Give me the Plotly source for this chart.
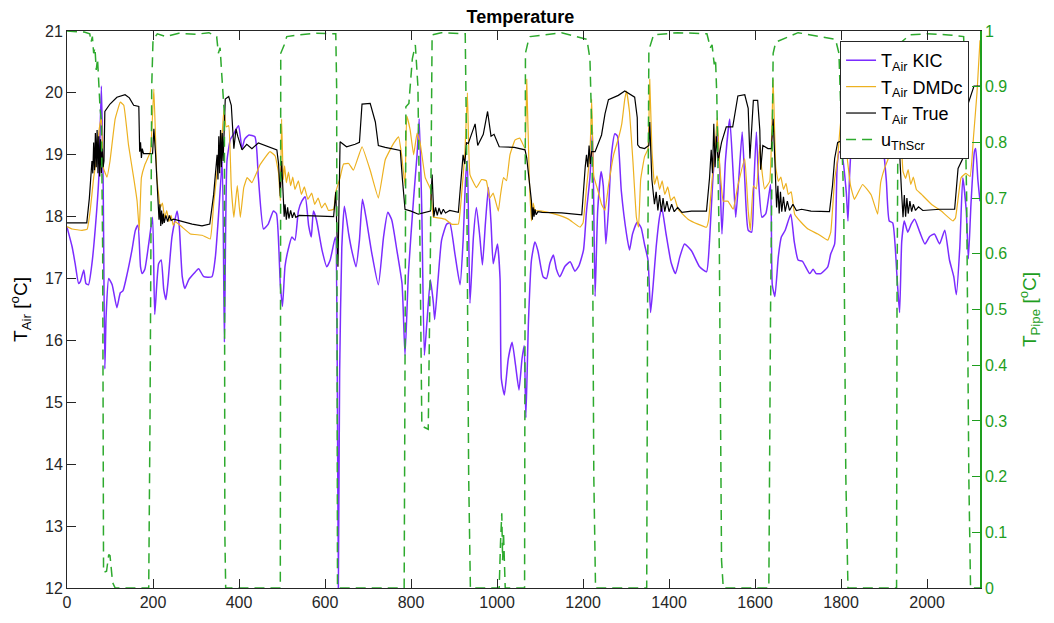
import plotly.graph_objects as go

# ---- air temperature, KIC model ----
x_kic = [0, 12, 19, 27, 31, 39, 44, 50, 58, 66, 74, 80, 84, 88, 91, 97, 105, 116, 124, 130,
         140, 151, 159, 165, 171, 175, 181, 190, 199, 204, 213, 219, 225, 230, 235, 244, 256, 261, 268, 274,
         283, 295, 306, 318, 337, 345, 353, 361, 366, 372, 380, 388, 392, 399, 407, 413, 423, 437, 445, 457,
         468, 480, 487, 496, 501, 507, 514, 523, 530, 538, 546, 554, 562, 568, 573, 580, 593, 604, 612, 624,
         628, 631, 634, 639, 645, 655, 662, 672, 680, 687, 695, 709, 724, 736, 746, 755, 767, 779, 786, 794,
         806, 814, 819, 825, 831, 837, 845, 852, 855, 863, 871, 883, 890, 902, 914, 921, 927, 931, 937, 945,
         952, 960, 966, 973, 980, 986, 991, 996, 1001, 1007, 1010, 1017, 1026, 1035, 1043, 1051, 1058, 1063, 1067, 1073,
         1080, 1088, 1095, 1107, 1115, 1123, 1131, 1138, 1146, 1158, 1170, 1181, 1190, 1201, 1208, 1216, 1222, 1228, 1234, 1242,
         1247, 1253, 1259, 1266, 1274, 1280, 1289, 1301, 1308, 1315, 1326, 1335, 1343, 1351, 1357, 1363, 1370, 1378, 1383, 1393,
         1405, 1415, 1425, 1436, 1452, 1471, 1487, 1494, 1502, 1512, 1518, 1523, 1531, 1541, 1549, 1555, 1562, 1570, 1576, 1584,
         1592, 1597, 1603, 1608, 1616, 1625, 1636, 1640, 1646, 1654, 1661, 1670, 1683, 1691, 1700, 1710, 1727, 1735, 1742, 1753,
         1769, 1776, 1785, 1791, 1796, 1802, 1812, 1816, 1820, 1826, 1845, 1870, 1895, 1905, 1912, 1920, 1930, 1936, 1941, 1947,
         1955, 1963, 1971, 1983, 1995, 2006, 2017, 2029, 2041, 2052, 2062, 2068, 2076, 2083, 2091, 2096, 2102, 2110, 2113, 2118,
         2123]
t_kic = [17.83, 17.51, 17.24, 16.92, 16.95, 17.14, 16.92, 16.90, 17.24, 17.83, 18.63, 20.11, 18.60, 15.54, 16.40, 17.00, 16.90, 16.53, 16.77, 16.80,
         17.08, 17.46, 17.78, 17.86, 17.19, 17.08, 17.15, 17.56, 17.99, 16.42, 17.24, 17.30, 16.82, 16.66, 16.95, 17.67, 18.09, 17.85, 17.03, 16.84,
         16.98, 17.08, 17.16, 17.03, 17.03, 17.35, 18.09, 18.89, 15.97, 18.90, 19.25, 19.34, 19.40, 19.47, 19.10, 19.25, 19.32, 19.29, 18.63, 17.80,
         17.88, 18.09, 18.05, 16.90, 16.55, 17.20, 17.46, 17.67, 17.62, 18.09, 18.25, 18.32, 17.85, 17.67, 18.09, 17.95, 17.46, 17.19, 17.30, 17.67,
         16.00, 12.00, 15.50, 17.50, 18.17, 17.72, 17.46, 17.19, 17.62, 18.28, 18.00, 17.40, 16.90, 17.67, 18.07, 17.95, 17.46, 16.92, 15.76, 17.10,
         18.30, 19.00, 19.58, 18.10, 15.76, 16.30, 16.98, 16.60, 16.34, 17.00, 17.62, 17.88, 17.90, 17.40, 16.90, 17.60, 18.63, 18.90, 16.60, 17.67,
         18.15, 17.67, 17.22, 17.90, 18.47, 17.90, 17.24, 17.40, 17.56, 17.00, 15.38, 15.12, 15.70, 15.97, 15.60, 15.20, 15.70, 15.92, 14.75, 16.30,
         17.30, 17.59, 17.45, 17.03, 17.00, 17.25, 17.38, 17.15, 17.03, 17.20, 17.27, 17.12, 17.20, 17.46, 18.09, 18.63, 19.37, 16.71, 18.10, 18.73,
         18.50, 17.56, 18.10, 19.00, 19.34, 19.30, 18.41, 17.72, 17.46, 17.72, 17.91, 17.82, 17.55, 17.30, 16.45, 16.90, 17.51, 18.00, 18.15, 17.72,
         17.25, 17.08, 17.35, 17.56, 17.45, 17.19, 17.11, 17.60, 18.63, 19.40, 18.70, 17.72, 18.90, 19.58, 18.70, 17.99, 18.60, 19.37, 18.60, 17.78,
         17.75, 18.50, 19.37, 18.60, 17.99, 18.05, 18.52, 16.90, 16.71, 17.35, 17.67, 17.78, 18.04, 17.60, 17.30, 17.28, 17.08, 17.15, 17.08, 17.08,
         17.19, 17.40, 17.56, 18.84, 19.05, 19.00, 18.40, 17.93, 18.70, 19.20, 19.35, 19.40, 19.20, 18.60, 17.93, 17.90, 17.03, 16.45, 17.60, 17.93,
         17.75, 17.88, 17.96, 17.75, 17.56, 17.68, 17.72, 17.56, 17.78, 17.30, 17.03, 16.74, 17.50, 18.63, 18.10, 17.32, 18.20, 19.05, 19.10, 18.60,
         18.25]

# ---- air temperature, DMDc model ----
x_dmdc = [0, 12, 35, 47, 54, 62, 68, 75, 80, 85, 93, 100, 112, 124, 132, 143, 155, 163, 168, 173,
          181, 194, 202, 209, 217, 222, 227, 232, 237, 242, 247, 252, 268, 287, 314, 333, 341, 349, 361, 365,
          370, 376, 382, 388, 396, 403, 411, 419, 430, 449, 472, 484, 492, 496, 499, 503, 506, 510, 515, 520,
          525, 530, 538, 545, 552, 560, 569, 576, 584, 592, 600, 608, 620, 625, 635, 643, 655, 666, 686, 705,
          724, 740, 759, 771, 778, 786, 790, 798, 806, 814, 821, 833, 845, 852, 855, 879, 894, 910, 918, 925,
          931, 937, 952, 964, 975, 983, 991, 1003, 1008, 1015, 1022, 1030, 1042, 1053, 1065, 1069, 1075, 1080, 1084, 1088,
          1104, 1135, 1166, 1193, 1200, 1208, 1216, 1220, 1225, 1235, 1243, 1251, 1259, 1271, 1282, 1290, 1297, 1301, 1308, 1316,
          1324, 1329, 1334, 1343, 1351, 1355, 1360, 1366, 1372, 1378, 1384, 1390, 1397, 1404, 1412, 1421, 1444, 1467, 1487, 1492,
          1500, 1506, 1512, 1518, 1526, 1537, 1549, 1560, 1576, 1584, 1589, 1596, 1603, 1611, 1615, 1622, 1634, 1642, 1648, 1654,
          1660, 1666, 1672, 1677, 1684, 1692, 1707, 1723, 1746, 1769, 1776, 1785, 1792, 1800, 1808, 1815, 1822, 1831, 1850, 1870,
          1885, 1892, 1901, 1913, 1925, 1936, 1940, 1944, 1950, 1956, 1962, 1968, 1975, 1987, 2010, 2033, 2060, 2066, 2079, 2090,
          2100, 2108, 2116, 2123]
t_dmdc = [17.84, 17.80, 17.78, 17.80, 18.10, 18.63, 18.90, 19.42, 19.60, 18.78, 18.64, 18.90, 19.58, 19.85, 19.80, 19.16, 18.63, 18.25, 17.78, 18.63,
          18.84, 19.05, 20.06, 18.63, 18.15, 18.22, 17.98, 18.10, 17.92, 18.02, 17.86, 17.92, 17.83, 17.72, 17.70, 17.64, 18.20, 18.73, 19.37, 19.74,
          19.45, 19.47, 18.47, 17.99, 18.50, 17.99, 18.47, 18.63, 18.55, 18.84, 19.05, 18.98, 18.70, 18.26, 19.58, 18.60, 18.82, 18.55, 18.72, 18.50,
          18.64, 18.44, 18.58, 18.36, 18.48, 18.28, 18.38, 18.20, 18.30, 18.14, 18.22, 18.10, 18.12, 18.40, 18.63, 18.85, 18.86, 18.75, 19.13, 18.75,
          18.30, 18.92, 19.18, 19.29, 19.00, 18.50, 19.63, 19.40, 19.00, 19.35, 19.20, 18.63, 18.45, 17.99, 17.99, 17.96, 17.88, 17.88, 18.40, 19.00,
          20.00, 18.68, 18.47, 18.60, 18.58, 18.30, 18.38, 18.09, 18.35, 18.63, 18.58, 19.00, 19.24, 19.27, 19.10, 20.22, 18.60, 17.93, 18.22, 18.10,
          18.09, 18.04, 17.96, 17.83, 17.90, 18.47, 19.00, 19.90, 18.65, 18.41, 18.20, 18.10, 18.50, 19.00, 19.26, 19.50, 19.90, 20.03, 19.69, 18.89,
          17.99, 17.83, 18.60, 18.97, 19.09, 20.22, 19.10, 18.52, 18.66, 18.44, 18.58, 18.36, 18.48, 18.26, 18.32, 18.12, 17.96, 17.88, 17.83, 17.95,
          18.60, 19.00, 19.60, 18.80, 18.25, 18.25, 18.12, 18.50, 18.94, 18.10, 17.78, 18.50, 18.45, 19.16, 18.80, 18.45, 18.57, 20.22, 18.80, 18.57,
          18.64, 18.44, 18.54, 18.36, 18.40, 18.04, 17.91, 17.80, 17.72, 17.62, 17.75, 18.60, 18.94, 19.60, 19.40, 18.90, 18.50, 18.28, 18.52, 18.35,
          18.04, 18.55, 18.78, 19.00, 19.50, 19.80, 19.20, 18.73, 18.62, 18.76, 18.52, 18.64, 18.44, 18.36, 18.20, 18.09, 17.93, 17.98, 18.63, 18.70,
          18.65, 19.30, 20.00, 20.85]

# ---- air temperature, measured ----
x_true = [0, 46, 52, 58, 60, 62, 64, 66, 68, 70, 72, 74, 76, 78, 80, 82, 84, 86, 88, 100,
          116, 135, 145, 155, 167, 169, 171, 173, 175, 178, 199, 202, 206, 210, 214, 216, 218, 220, 222, 224,
          226, 230, 234, 238, 242, 248, 291, 314, 332, 341, 346, 349, 351, 353, 355, 357, 359, 361, 363, 365,
          368, 376, 382, 388, 393, 397, 407, 418, 430, 445, 488, 492, 496, 499, 502, 505, 507, 510, 513, 516,
          520, 524, 528, 532, 540, 620, 625, 630, 635, 650, 670, 680, 686, 705, 717, 724, 740, 775, 780, 786,
          800, 817, 845, 849, 853, 857, 861, 865, 870, 875, 880, 890, 910, 921, 925, 929, 933, 949, 955, 968,
          978, 986, 993, 1005, 1040, 1065, 1069, 1077, 1080, 1082, 1084, 1086, 1088, 1091, 1095, 1105, 1150, 1197, 1201, 1205,
          1208, 1211, 1214, 1217, 1220, 1228, 1243, 1251, 1259, 1282, 1297, 1310, 1320, 1326, 1327, 1332, 1343, 1353, 1355, 1360,
          1366, 1370, 1374, 1378, 1382, 1386, 1390, 1395, 1400, 1406, 1412, 1420, 1430, 1452, 1487, 1494, 1498, 1501, 1504, 1507,
          1510, 1514, 1522, 1533, 1548, 1560, 1576, 1584, 1588, 1596, 1606, 1611, 1613, 1618, 1630, 1638, 1642, 1646, 1650, 1653,
          1656, 1659, 1662, 1666, 1670, 1675, 1680, 1688, 1696, 1708, 1730, 1773, 1780, 1785, 1792, 1810, 1850, 1900, 1935, 1940,
          1944, 1947, 1950, 1953, 1956, 1960, 1964, 1968, 1973, 1980, 1990, 2030, 2064, 2072, 2083, 2089, 2101, 2109, 2123]
t_true = [17.90, 17.90, 18.30, 18.90, 18.70, 19.20, 18.75, 19.35, 18.80, 19.40, 18.70, 19.30, 18.65, 19.25, 18.70, 19.10, 18.80, 18.90, 19.70, 19.82,
          19.93, 19.97, 19.92, 19.80, 19.78, 19.05, 19.20, 18.95, 19.10, 19.02, 19.02, 19.42, 19.00, 18.40, 17.95, 18.20, 17.85, 18.10, 17.88, 18.05,
          17.90, 18.02, 17.92, 18.02, 17.94, 17.96, 17.88, 17.85, 17.88, 18.36, 18.70, 19.00, 18.60, 19.30, 18.70, 19.40, 18.80, 19.35, 18.90, 19.20,
          19.90, 19.94, 19.80, 19.10, 19.42, 19.30, 19.08, 19.17, 19.10, 19.19, 19.08, 18.85, 18.33, 18.90, 18.40, 18.00, 18.20, 17.95, 18.15, 17.97,
          18.10, 17.98, 18.07, 17.99, 18.02, 18.00, 18.40, 17.19, 19.21, 19.13, 19.17, 19.20, 19.82, 19.83, 19.53, 19.15, 19.12, 19.07, 18.60, 18.12,
          18.09, 18.04, 18.09, 18.68, 18.00, 18.15, 18.02, 18.14, 18.04, 18.12, 18.06, 18.10, 18.07, 19.00, 18.85, 19.20, 19.18, 19.50, 19.15, 19.33,
          19.70, 19.30, 19.33, 19.13, 19.12, 19.08, 18.95, 18.47, 18.25, 17.95, 18.15, 18.00, 18.12, 18.03, 18.08, 18.07, 18.06, 18.03, 18.50, 18.80,
          19.00, 18.80, 19.15, 18.85, 19.05, 19.05, 19.32, 19.66, 19.89, 19.96, 20.03, 19.98, 19.93, 19.60, 19.16, 19.12, 19.10, 19.15, 19.53, 18.60,
          18.20, 18.40, 18.10, 18.35, 18.08, 18.30, 18.08, 18.25, 18.08, 18.20, 18.08, 18.15, 18.07, 18.09, 18.09, 18.62, 19.08, 18.70, 19.50, 18.80,
          19.30, 18.90, 19.20, 19.45, 19.45, 19.95, 19.97, 19.75, 18.94, 19.88, 19.88, 19.40, 18.76, 19.15, 19.10, 19.10, 19.58, 18.90, 18.15, 18.50,
          18.05, 18.40, 18.08, 18.32, 18.08, 18.25, 18.10, 18.20, 18.10, 18.12, 18.09, 18.08, 18.50, 18.94, 19.20, 19.25, 19.30, 19.25, 19.20, 18.47,
          17.99, 18.35, 18.00, 18.30, 18.05, 18.25, 18.08, 18.20, 18.10, 18.16, 18.10, 18.12, 18.12, 18.78, 18.94, 19.69, 19.95, 20.11, 20.11]

# ---- thermal screen control signal (right axis) ----
x_scr = [0, 40, 53, 56, 59, 62, 65, 68, 71, 74, 77, 80, 83, 85, 92, 97, 100, 106, 112, 190,
         193, 197, 200, 210, 230, 260, 300, 330, 348, 352, 356, 360, 363, 366, 367, 369, 496, 497, 505, 511,
         540, 580, 625, 627, 629, 784, 786, 788, 795, 803, 810, 816, 821, 825, 827, 840, 845, 849, 870, 926,
         929, 934, 938, 1005, 1008, 1011, 1013, 1015, 1019, 1064, 1066, 1072, 1077, 1150, 1209, 1216, 1221, 1225, 1229, 1348,
         1350, 1353, 1364, 1420, 1488, 1496, 1500, 1505, 1508, 1511, 1517, 1522, 1526, 1632, 1636, 1642, 1648, 1700, 1787, 1795,
         1806, 1811, 1816, 1929, 1930, 1933, 1940, 1960, 2000, 2050, 2085, 2092, 2097, 2101, 2123]
u_scr = [1.000, 0.998, 0.995, 0.980, 0.990, 0.960, 0.970, 0.930, 0.950, 0.900, 0.860, 0.840, 0.600, 0.028, 0.030, 0.060, 0.058, 0.010, 0.000, 0.000,
         0.300, 0.900, 0.984, 0.995, 0.990, 0.996, 0.994, 0.997, 0.990, 0.960, 0.970, 0.920, 0.880, 0.850, 0.100, 0.000, 0.000, 0.960, 0.975, 0.990,
         0.993, 0.996, 0.995, 0.900, 0.000, 0.000, 0.400, 0.864, 0.870, 0.950, 0.975, 0.900, 0.600, 0.300, 0.290, 0.285, 0.600, 0.993, 0.997, 0.995,
         0.800, 0.200, 0.000, 0.000, 0.080, 0.134, 0.050, 0.100, 0.000, 0.000, 0.960, 0.980, 0.990, 0.997, 0.985, 0.950, 0.800, 0.200, 0.000, 0.000,
         0.500, 0.966, 0.993, 0.997, 0.995, 0.970, 0.975, 0.940, 0.950, 0.884, 0.600, 0.050, 0.000, 0.000, 0.500, 0.960, 0.980, 0.997, 0.985, 0.960,
         0.700, 0.200, 0.000, 0.000, 0.500, 0.960, 0.980, 0.993, 0.995, 0.993, 0.990, 0.700, 0.200, 0.000, 0.000]

x_ticks = list(range(0, 2001, 200))
y_ticks = list(range(12, 22))
u_ticks = [0, 0.1, 0.2, 0.3, 0.4, 0.5, 0.6, 0.7, 0.8, 0.9, 1]
u_tick_text = ["0", "0.1", "0.2", "0.3", "0.4", "0.5", "0.6", "0.7", "0.8", "0.9", "1"]

FONT = "Liberation Sans, Arial, Helvetica, sans-serif"
AX = "#262626"
GREEN_AX = "#1E9E1E"
GREEN_LINE = "#2EAA2E"

fig = go.Figure()
fig.add_trace(go.Scatter(x=x_kic, y=t_kic, mode="lines", name="T<sub>Air</sub> KIC",
                         line=dict(color="#7B2CFF", width=1.5, shape="spline", smoothing=0.5)))
fig.add_trace(go.Scatter(x=x_dmdc, y=t_dmdc, mode="lines", name="T<sub>Air</sub> DMDc",
                         line=dict(color="#EDB120", width=1.2, shape="spline", smoothing=0.3)))
fig.add_trace(go.Scatter(x=x_true, y=t_true, mode="lines", name="T<sub>Air</sub> True",
                         line=dict(color="#000000", width=1.2)))
fig.add_trace(go.Scatter(x=x_scr, y=u_scr, mode="lines", name="u<sub>ThScr</sub>", yaxis="y2",
                         line=dict(color=GREEN_LINE, width=1.5, dash="10px,6px")))

fig.update_layout(
    width=1054, height=623, autosize=False,
    margin=dict(l=67, r=74, t=31, b=27),
    paper_bgcolor="white", plot_bgcolor="white",
    font=dict(family=FONT, size=16, color="black"),
    title=dict(text="<b>Temperature</b>", x=0.4966, xref="paper", xanchor="center",
               y=0.973, yref="container", yanchor="middle",
               font=dict(family=FONT, size=18, color="black")),
    showlegend=True,
    legend=dict(x=0.988, y=0.982, xanchor="right", yanchor="top",
                bgcolor="white", bordercolor=AX, borderwidth=1,
                font=dict(family=FONT, size=18, color="black"), tracegroupgap=0),
    xaxis=dict(range=[0, 2123], tickvals=x_ticks, showgrid=False, zeroline=False,
               showline=True, linecolor=AX, linewidth=1, mirror="ticks",
               ticks="inside", ticklen=9, tickcolor=AX,
               tickfont=dict(family=FONT, size=16, color=AX)),
    yaxis=dict(range=[12, 21], tickvals=y_ticks, showgrid=False, zeroline=False,
               showline=True, linecolor=AX, linewidth=1,
               ticks="inside", ticklen=9, tickcolor=AX,
               tickfont=dict(family=FONT, size=16, color=AX),
               title=dict(text="T<sub>Air</sub> [<sup>o</sup>C]", standoff=12,
                          font=dict(family=FONT, size=19, color="black"))),
    yaxis2=dict(range=[0, 1], tickvals=u_ticks, ticktext=u_tick_text, overlaying="y", side="right",
                showgrid=False, zeroline=False, showline=True, linecolor=GREEN_AX, linewidth=1.5,
                ticks="inside", ticklen=8, tickcolor=GREEN_AX,
                tickfont=dict(family=FONT, size=16, color=GREEN_AX),
                title=dict(text="T<sub>Pipe</sub> [<sup>o</sup>C]", standoff=16,
                           font=dict(family=FONT, size=19, color=GREEN_AX))),
)

fig.write_html("out.html")
